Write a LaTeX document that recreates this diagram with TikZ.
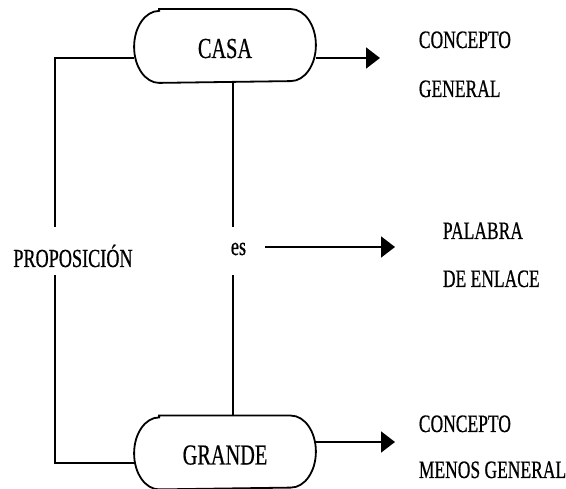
\documentclass[tikz,border=0pt]{standalone}
\usepackage{fontspec}
\newfontfamily\cf[FakeStretch=0.7,FakeBold=0.6]{Liberation Serif}
\usetikzlibrary{arrows.meta}
\begin{document}
\begin{tikzpicture}[x=1pt,y=-1pt, line width=1.8pt,
  lbl/.style={inner sep=0pt, anchor=base west, font=\cf\fontsize{25}{30}\selectfont},
  box/.style={minimum width=180pt, minimum height=72pt, inner sep=0pt, text height=24pt, text depth=0pt, font=\cf\fontsize{29}{34}\selectfont},
  arr/.style={-{Triangle[length=14pt,width=21pt]}},
  gap/.style={fill=white, inner ysep=0pt, inner xsep=2pt, anchor=base, font=\cf\fontsize{26}{30}\selectfont}]
\useasboundingbox (0,0) rectangle (566,489);
% boxes
\node[box] (casa) at (225,46) {CASA};
\node[box] (grande) at (225,452.5) {GRANDE};
\foreach \n in {casa,grande}{
  \draw ([xshift=25pt]\n.north west) -- ([xshift=-25pt]\n.north east)
    arc[start angle=90, end angle=-90, x radius=25pt, y radius=36pt]
    -- ([xshift=25pt]\n.south west)
    arc[start angle=270, end angle=90, x radius=25pt, y radius=36pt] -- cycle;
}
% coordinates
\coordinate (lc) at (55,463);
\coordinate (t1) at (380,58);
\coordinate (t2) at (395,247);
\coordinate (t3) at (395,442);
% connectors
\draw ([yshift=-12pt]casa.west) -| (lc) -- ([yshift=-10.5pt]grande.west);
\draw ([xshift=8pt]casa.south) -- ([xshift=8pt]grande.north);
\node[gap, text height=40pt, text depth=8pt] (prop) at (73,267) {PROPOSICIÓN};
\node[gap, text height=28pt, text depth=20pt] (es) at (238.5,255) {es};
\draw[arr] ([yshift=-12pt]casa.east) -- (t1);
\draw[arr] ([xshift=16pt,yshift=4pt]es.east) -- (t2);
\draw[arr] ([yshift=10.5pt]grande.east) -- (t3);
% labels
\node[lbl] (c1) at (418,48) {CONCEPTO};
\node[lbl] (g1) at (418,97) {GENERAL};
\node[lbl] (p1) at (442,239) {PALABRA};
\node[lbl] (d1) at (442,287) {DE ENLACE};
\node[lbl] (c2) at (418,432) {CONCEPTO};
\node[lbl] (m2) at (418,478) {MENOS GENERAL};
\end{tikzpicture}
\end{document}
